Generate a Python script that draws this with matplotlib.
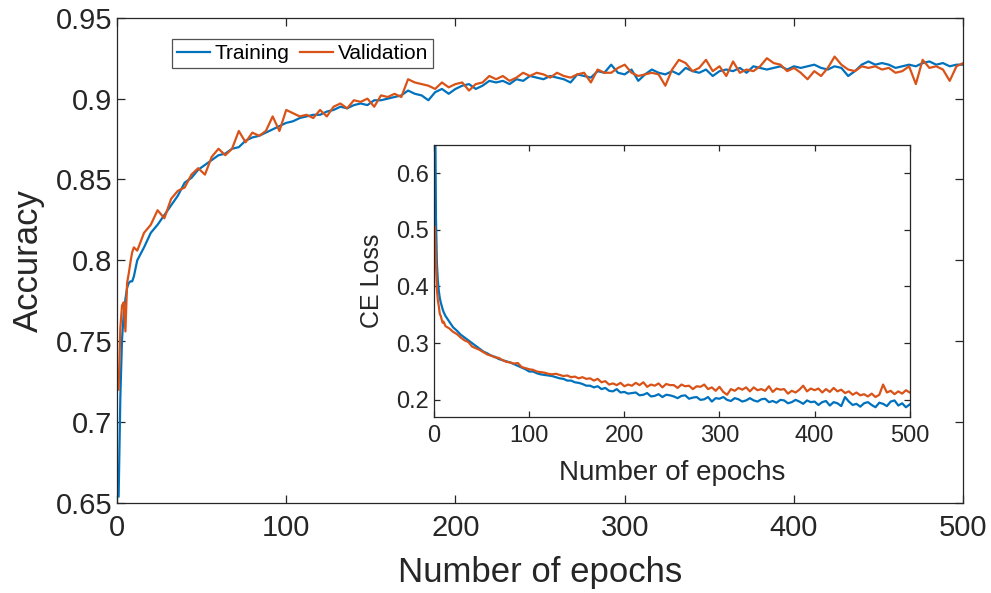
import matplotlib
matplotlib.use("Agg")
import matplotlib.pyplot as plt
from matplotlib.ticker import FuncFormatter

plt.rcParams['font.family'] = ['Liberation Sans', 'DejaVu Sans']

# epochs: every epoch up to 10, then every 4th epoch
epochs = list(range(1, 11)) + list(range(12, 501, 4))

train_acc = [
    0.654, 0.715, 0.751, 0.767, 0.776, 0.783, 0.786, 0.787, 0.787, 0.790,
    0.800, 0.808, 0.817, 0.822, 0.828, 0.834, 0.840, 0.848, 0.851, 0.856,
    0.859, 0.862, 0.865, 0.866, 0.869, 0.870, 0.874, 0.876, 0.877, 0.879,
    0.881, 0.883, 0.885, 0.886, 0.888, 0.889, 0.890, 0.890, 0.892, 0.893,
    0.895, 0.894, 0.896, 0.897, 0.896, 0.899, 0.899, 0.900, 0.901, 0.902,
    0.905, 0.903, 0.902, 0.899, 0.904, 0.906, 0.903, 0.906, 0.908, 0.909,
    0.906, 0.908, 0.911, 0.910, 0.911, 0.909, 0.912, 0.911, 0.914, 0.913,
    0.912, 0.914, 0.913, 0.912, 0.910, 0.915, 0.914, 0.913, 0.917, 0.916,
    0.921, 0.916, 0.915, 0.918, 0.911, 0.915, 0.918, 0.916, 0.915, 0.917,
    0.915, 0.919, 0.917, 0.916, 0.918, 0.914, 0.917, 0.918, 0.917, 0.919,
    0.916, 0.920, 0.919, 0.918, 0.919, 0.920, 0.918, 0.920, 0.919, 0.920,
    0.921, 0.919, 0.918, 0.920, 0.919, 0.914, 0.917, 0.921, 0.923, 0.921,
    0.922, 0.921, 0.919, 0.920, 0.921, 0.920, 0.922, 0.923, 0.921, 0.922,
    0.920, 0.921, 0.921,
]

val_acc = [
    0.720, 0.758, 0.772, 0.774, 0.756, 0.786, 0.792, 0.799, 0.805, 0.808,
    0.806, 0.817, 0.822, 0.831, 0.826, 0.838, 0.843, 0.845, 0.853, 0.857,
    0.853, 0.864, 0.869, 0.865, 0.869, 0.880, 0.873, 0.879, 0.877, 0.880,
    0.889, 0.880, 0.893, 0.891, 0.889, 0.890, 0.888, 0.893, 0.889, 0.895,
    0.897, 0.894, 0.899, 0.898, 0.900, 0.895, 0.902, 0.901, 0.903, 0.901,
    0.912, 0.910, 0.909, 0.908, 0.906, 0.910, 0.907, 0.909, 0.910, 0.905,
    0.909, 0.910, 0.914, 0.912, 0.914, 0.911, 0.913, 0.916, 0.914, 0.916,
    0.915, 0.913, 0.916, 0.914, 0.913, 0.915, 0.916, 0.910, 0.918, 0.916,
    0.916, 0.919, 0.921, 0.916, 0.914, 0.915, 0.916, 0.915, 0.908, 0.918,
    0.924, 0.922, 0.917, 0.919, 0.924, 0.917, 0.920, 0.914, 0.923, 0.916,
    0.918, 0.917, 0.920, 0.925, 0.922, 0.921, 0.917, 0.919, 0.916, 0.912,
    0.917, 0.914, 0.919, 0.926, 0.921, 0.918, 0.917, 0.920, 0.919, 0.920,
    0.918, 0.919, 0.916, 0.917, 0.920, 0.909, 0.924, 0.919, 0.920, 0.918,
    0.911, 0.920, 0.922,
]

train_loss = [
    0.760, 0.520, 0.440, 0.410, 0.392, 0.380, 0.372, 0.366, 0.360, 0.355,
    0.348, 0.338, 0.328, 0.322, 0.315, 0.310, 0.305, 0.300, 0.295, 0.290,
    0.285, 0.282, 0.278, 0.276, 0.272, 0.270, 0.268, 0.266, 0.263, 0.260,
    0.257, 0.254, 0.250, 0.250, 0.247, 0.245, 0.244, 0.243, 0.242, 0.240,
    0.238, 0.237, 0.234, 0.234, 0.231, 0.230, 0.228, 0.225, 0.225, 0.222,
    0.224, 0.219, 0.221, 0.216, 0.215, 0.219, 0.213, 0.214, 0.211, 0.212,
    0.213, 0.208, 0.209, 0.212, 0.206, 0.207, 0.210, 0.205, 0.209, 0.208,
    0.206, 0.203, 0.207, 0.208, 0.202, 0.204, 0.205, 0.200, 0.201, 0.205,
    0.197, 0.203, 0.202, 0.205, 0.200, 0.198, 0.203, 0.201, 0.197, 0.199,
    0.203, 0.199, 0.197, 0.201, 0.202, 0.196, 0.198, 0.195, 0.200, 0.199,
    0.194, 0.196, 0.200, 0.197, 0.193, 0.199, 0.196, 0.197, 0.191, 0.196,
    0.198, 0.190, 0.196, 0.194, 0.189, 0.205, 0.197, 0.191, 0.193, 0.188,
    0.194, 0.196, 0.191, 0.187, 0.195, 0.193, 0.189, 0.197, 0.199, 0.190,
    0.194, 0.187, 0.192,
]

val_loss = [
    0.505, 0.440, 0.395, 0.375, 0.365, 0.352, 0.348, 0.342, 0.336, 0.338,
    0.330, 0.326, 0.320, 0.316, 0.310, 0.305, 0.302, 0.294, 0.291, 0.288,
    0.284, 0.280, 0.278, 0.275, 0.274, 0.270, 0.267, 0.266, 0.264, 0.265,
    0.258, 0.256, 0.254, 0.253, 0.250, 0.249, 0.248, 0.246, 0.245, 0.246,
    0.244, 0.242, 0.243, 0.240, 0.241, 0.238, 0.240, 0.237, 0.238, 0.234,
    0.237, 0.231, 0.233, 0.227, 0.229, 0.226, 0.230, 0.224, 0.227, 0.225,
    0.230, 0.226, 0.231, 0.223, 0.227, 0.225, 0.229, 0.222, 0.228, 0.226,
    0.226, 0.221, 0.227, 0.224, 0.225, 0.219, 0.224, 0.223, 0.227, 0.219,
    0.222, 0.216, 0.223, 0.214, 0.209, 0.219, 0.216, 0.221, 0.218, 0.222,
    0.215, 0.222, 0.217, 0.219, 0.216, 0.224, 0.214, 0.220, 0.218, 0.219,
    0.211, 0.216, 0.213, 0.218, 0.225, 0.215, 0.220, 0.217, 0.220, 0.213,
    0.219, 0.214, 0.221, 0.215, 0.218, 0.212, 0.215, 0.209, 0.213, 0.208,
    0.210, 0.206, 0.211, 0.205, 0.209, 0.227, 0.213, 0.216, 0.210, 0.215,
    0.211, 0.217, 0.213,
]

acc_yticks = [0.65, 0.7, 0.75, 0.8, 0.85, 0.9, 0.95]
loss_yticks = [0.2, 0.3, 0.4, 0.5, 0.6]
x_ticks = [0, 100, 200, 300, 400, 500]

BLUE = '#0072BD'
ORANGE = '#D95319'
DARK = '#262626'
fmt = FuncFormatter(lambda v, pos: f"{v:g}")


def style_axes(ax, tick_len, fsize):
    for s in ax.spines.values():
        s.set_color(DARK)
        s.set_linewidth(0.9)
    ax.tick_params(direction='in', top=True, right=True, length=tick_len,
                   width=0.9, color=DARK, labelcolor=DARK, labelsize=fsize)
    ax.yaxis.set_major_formatter(fmt)


fig = plt.figure(figsize=(9.91, 5.93), dpi=100)

# main accuracy axes
ax = fig.add_axes([0.118, 0.152, 0.854, 0.818])
ax.plot(epochs, train_acc, color=BLUE, lw=1.6, label='Training')
ax.plot(epochs, val_acc, color=ORANGE, lw=1.6, label='Validation')
ax.set_xlim(0, 500)
ax.set_ylim(0.65, 0.95)
ax.set_xticks(x_ticks)
ax.set_yticks(acc_yticks)
style_axes(ax, 6, 21)
ax.tick_params(axis='x', pad=8)
ax.set_xlabel('Number of epochs', fontsize=25, color=DARK)
ax.set_ylabel('Accuracy', fontsize=25, color=DARK)
ax.xaxis.set_label_coords(0.5, -0.144)
ax.xaxis.label.set_va('center')
ax.yaxis.set_label_coords(-0.105, 0.5)
ax.yaxis.label.set_va('center')
leg = ax.legend(loc='upper left', bbox_to_anchor=(0.065, 0.957), borderaxespad=0,
                ncol=2, fontsize=15, frameon=True, fancybox=False,
                handlelength=1.6, handletextpad=0.2, columnspacing=0.5,
                borderpad=0.25)
leg.get_frame().set_edgecolor(DARK)
leg.get_frame().set_linewidth(0.9)
for t in leg.get_texts():
    t.set_color('black')

# inset loss axes
ins = fig.add_axes([0.438, 0.297, 0.480, 0.459])
ins.plot(epochs, train_loss, color=BLUE, lw=1.6)
ins.plot(epochs, val_loss, color=ORANGE, lw=1.6)
ins.set_xlim(0, 500)
ins.set_ylim(0.17, 0.65)
ins.set_xticks(x_ticks)
ins.set_yticks(loss_yticks)
style_axes(ins, 4, 17)
ins.tick_params(axis='x', pad=6)
ins.set_xlabel('Number of epochs', fontsize=20, color=DARK)
ins.set_ylabel('CE Loss', fontsize=18, color=DARK)
ins.xaxis.set_label_coords(0.5, -0.206)
ins.xaxis.label.set_va('center')
ins.yaxis.set_label_coords(-0.130, 0.5)
ins.yaxis.label.set_va('center')

fig.savefig('out.png', dpi=100)
